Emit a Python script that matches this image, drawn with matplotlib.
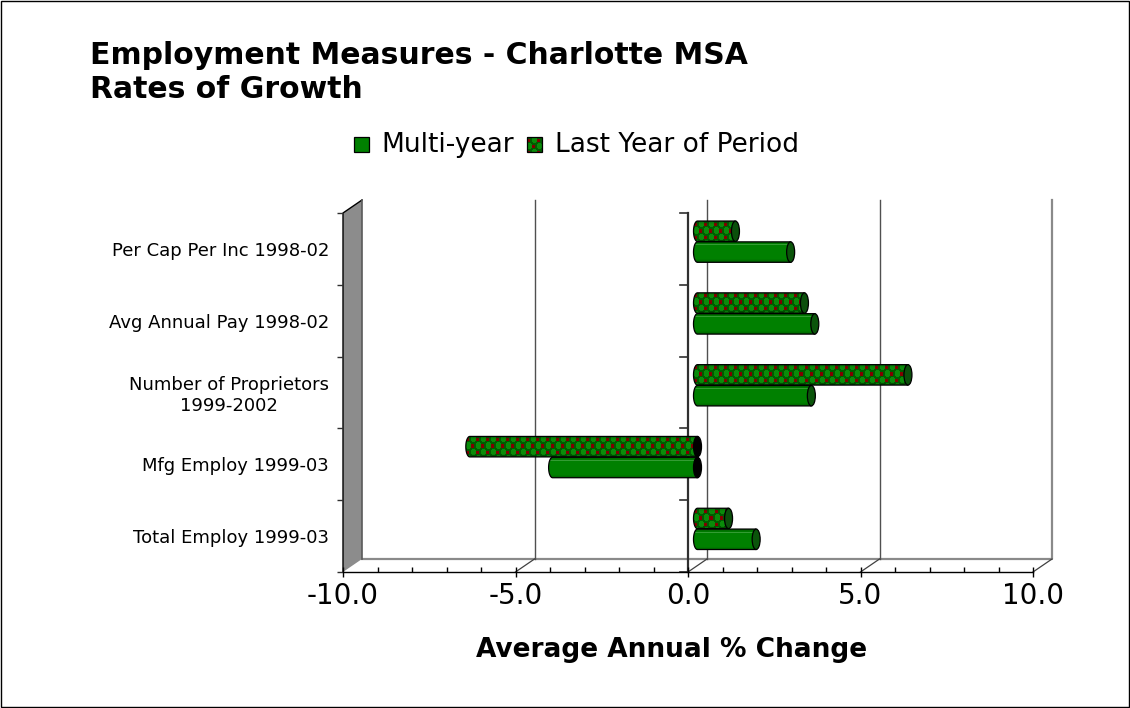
import numpy as np
import matplotlib
matplotlib.use("Agg")
import matplotlib.pyplot as plt
from matplotlib.patches import Polygon, Ellipse, Rectangle
from matplotlib.lines import Line2D

# ---- data ----
categories = [
    "Total Employ 1999-03",
    "Mfg Employ 1999-03",
    "Number of Proprietors\n1999-2002",
    "Avg Annual Pay 1998-02",
    "Per Cap Per Inc 1998-02",
]
multi_year = [1.7, -4.2, 3.3, 3.4, 2.7]
last_year = [0.9, -6.6, 6.1, 3.1, 1.1]
series_names = ["Multi-year", "Last Year of Period"]
x_ticks = [-10, -5, 0, 5, 10]
x_min, x_max = -10, 10

title_lines = ["Employment Measures - Charlotte MSA", "Rates of Growth"]
x_title = "Average Annual % Change"

# ---- figure / axes geometry (pixels) ----
W, H = 1130, 708
AX_L, AX_R, AX_T, AX_B = 343, 1033, 213, 572
fig = plt.figure(figsize=(W / 100, H / 100), dpi=100)
fig.patch.set_facecolor("white")

ax = fig.add_axes([AX_L / W, (H - AX_B) / H, (AX_R - AX_L) / W, (AX_B - AX_T) / H])
ax.patch.set_visible(False)
n_cat = len(categories)
y_lo, y_hi = -0.5, n_cat - 0.5

# data units per pixel
PX_X = (x_max - x_min) / (AX_R - AX_L)
PX_Y = (y_hi - y_lo) / (AX_B - AX_T)
# oblique depth of the 3-D box
DX, DY = 19 * PX_X, 13 * PX_Y

GREEN = np.array([0, 128, 0]) / 255
DARK = np.array([0, 92, 0]) / 255
RED = np.array([128, 0, 0]) / 255
LIGHT = np.array([10, 140, 10]) / 255


def shade(img, highlight=True):
    h = img.shape[0]
    t = (np.arange(h) + 0.5) / h
    f = np.clip(0.72 + 0.6 * np.sin(np.pi * t), 0, 1.0)
    out = img * f[:, None, None]
    if highlight and h > 6:
        r = int(round(0.14 * h))
        out[r] = out[r] * 0.55 + 0.45 * np.array([0.45, 0.75, 0.45])
    return np.clip(out, 0, 1)


def solid_texture(w, h, shaded=True):
    img = np.tile(GREEN, (h, w, 1)).astype(float)
    return shade(img) if shaded else img


def pattern_texture(w, h, shaded=True):
    yy, xx = np.mgrid[0:h, 0:w]
    tx, ty = xx % 10, yy % 12
    img = np.tile(DARK, (h, w, 1)).astype(float)
    c1 = (tx - 7) ** 2 + (ty - 2.5) ** 2 <= 2.8 ** 2
    c2 = (tx - 2) ** 2 + (ty - 8.5) ** 2 <= 2.8 ** 2
    img[c1 | c2] = LIGHT
    sq = ((tx <= 2) & (ty >= 2) & (ty <= 4)) | ((tx >= 5) & (tx <= 7) & (ty >= 8) & (ty <= 10))
    img[sq] = RED
    return shade(img, highlight=False) if shaded else img


# ---- 3-D box: left wall, floor, back wall grid ----
wall = Polygon([(x_min, y_lo), (x_min, y_hi), (x_min + DX, y_hi + DY), (x_min + DX, y_lo + DY)],
               closed=True, facecolor="#8c8c8c", edgecolor="none", zorder=0.5, clip_on=False)
ax.add_patch(wall)
ax.add_line(Line2D([x_min, x_min, x_min + DX], [y_lo, y_hi, y_hi + DY], color="black", lw=1.0,
                   zorder=0.6, clip_on=False))
ax.add_line(Line2D([x_min + DX, x_min + DX], [y_lo + DY, y_hi + DY], color="#5a5a5a", lw=1.2,
                   zorder=0.6, clip_on=False))

# floor back edge and back-wall right edge
ax.add_line(Line2D([x_min + DX, x_max + DX, x_max + DX], [y_lo + DY, y_lo + DY, y_hi + DY],
                   color="#8a8a8a", lw=1.6, zorder=0.4, clip_on=False))
# back-wall gridlines and floor diagonals
for xv in x_ticks[1:-1]:
    ax.add_line(Line2D([xv + DX, xv + DX], [y_lo + DY, y_hi + DY], color="#505050", lw=1.0,
                       zorder=0.4, clip_on=False))
for xv in x_ticks[1:]:
    ax.add_line(Line2D([xv, xv + DX], [y_lo, y_lo + DY], color="#404040", lw=0.9,
                       zorder=0.4, clip_on=False))

# category axis at zero with boundary ticks
ax.add_line(Line2D([0, 0], [y_lo, y_hi], color="#303030", lw=1.6, zorder=1, clip_on=False))
for yb in np.arange(y_lo, y_hi + 0.01, 1.0):
    ax.add_line(Line2D([-8 * PX_X, 0], [yb, yb], color="#303030", lw=1.2, zorder=1, clip_on=False))

# ---- cylinder bars ----
BAR_H = 0.285
OFFSETS = {"last": 0.155, "multi": -0.135}
SX, SY = DX / 2, DY / 2
RX = 4 * PX_X


def cylinder(value, yc, texture_fn, cap_color, z):
    yc = yc + SY
    a, b = 0 + SX, value + SX
    lo, hi = min(a, b), max(a, b)
    h2 = BAR_H / 2
    th = np.linspace(np.pi / 2, 3 * np.pi / 2, 40)
    pts = [(lo + RX * np.cos(t), yc + h2 * np.sin(t)) for t in th]
    pts += [(hi, yc - h2), (hi, yc + h2)]
    body = Polygon(pts, closed=True, facecolor="none", edgecolor="black", lw=0.9,
                   zorder=z + 0.1, clip_on=False)
    ax.add_patch(body)
    wpx = max(2, int(round((hi - lo + RX) / PX_X)))
    hpx = max(2, int(round(BAR_H / PX_Y)))
    im = ax.imshow(texture_fn(wpx, hpx), extent=[lo - RX, hi, yc - h2, yc + h2],
                   aspect="auto", interpolation="nearest", zorder=z, origin="upper")
    im.set_clip_path(body)
    cap = Ellipse((hi, yc), 2 * RX, BAR_H, facecolor=cap_color, edgecolor="black", lw=0.9,
                  zorder=z + 0.2, clip_on=False)
    ax.add_patch(cap)


for i in range(n_cat):
    mv, lv = multi_year[i], last_year[i]
    cylinder(lv, i + OFFSETS["last"], pattern_texture,
             "#000000" if lv < 0 else "#0b4f0b", 3 + i)
    cylinder(mv, i + OFFSETS["multi"], solid_texture,
             "#000000" if mv < 0 else "#0b550b", 3.5 + i)

ax.set_xlim(x_min, x_max)
ax.set_ylim(y_lo, y_hi)

# ---- axes decoration ----
for s in ["left", "right", "top"]:
    ax.spines[s].set_visible(False)
ax.spines["bottom"].set_color("black")
ax.spines["bottom"].set_linewidth(1.0)
ax.spines["bottom"].set_zorder(2)

ax.set_xticks(x_ticks)
ax.set_xticklabels([f"{v:.1f}" for v in x_ticks], fontsize=20)
ax.set_xticks(np.arange(x_min, x_max + 1, 1), minor=True)
ax.tick_params(axis="x", which="major", direction="inout", length=6.5, width=1.0, pad=4)
ax.tick_params(axis="x", which="minor", direction="in", length=3.6, width=1.0)

ax.set_yticks(range(n_cat))
ax.set_yticklabels(categories, fontsize=13, multialignment="center")
ax.set_yticks(np.arange(y_lo, y_hi + 0.01, 1.0), minor=True)
ax.tick_params(axis="y", which="major", length=0, pad=10)
ax.tick_params(axis="y", which="minor", direction="out", length=4.3, width=1.0, color="#303030")

ax.set_xlabel(x_title, fontsize=19, fontweight="bold")
ax.xaxis.set_label_coords((672 - AX_L) / (AX_R - AX_L), -(650 - AX_B) / (AX_B - AX_T))
ax.xaxis.label.set_va("center")

# ---- overlay: title, legend, frame ----
deco = fig.add_axes([0, 0, 1, 1], zorder=-1)
deco.set_xlim(0, W)
deco.set_ylim(H, 0)
deco.axis("off")

deco.text(90, 55, title_lines[0], fontsize=21.5, fontweight="bold", va="center", ha="left")
deco.text(90, 90, title_lines[1], fontsize=21.5, fontweight="bold", va="center", ha="left")

KEY = 15
deco.add_patch(Rectangle((354, 137), KEY, KEY, facecolor=GREEN, edgecolor="black", lw=0.9))
deco.text(381, 144.5, series_names[0], fontsize=19, va="center", ha="left")
deco.imshow(pattern_texture(KEY, KEY, shaded=False), extent=(527, 527 + KEY, 137 + KEY, 137),
            aspect="auto", interpolation="nearest", origin="upper")
deco.add_patch(Rectangle((527, 137), KEY, KEY, facecolor="none", edgecolor="black", lw=0.9))
deco.text(555, 144.5, series_names[1], fontsize=19, va="center", ha="left")
deco.set_xlim(0, W)
deco.set_ylim(H, 0)

deco.add_patch(Rectangle((0.5, 0.5), W - 1.5, H - 1.5, fill=False, edgecolor="black", lw=1.0))

fig.savefig("out.png", dpi=100, facecolor="white")
